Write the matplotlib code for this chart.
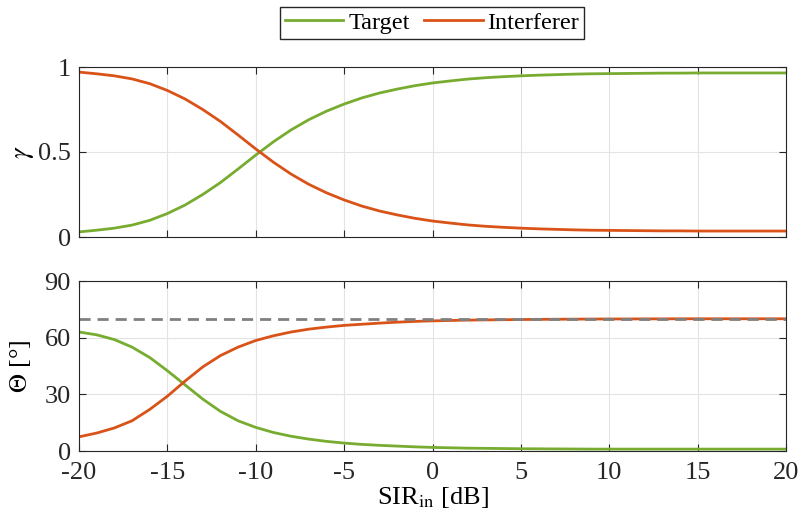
import numpy as np
import matplotlib
matplotlib.use("Agg")
import matplotlib.pyplot as plt

plt.rcParams["font.family"] = ["Liberation Serif", "DejaVu Serif"]
plt.rcParams["mathtext.fontset"] = "stix"

sir_db = np.arange(-20, 21)

gamma_target = [0.030, 0.040, 0.052, 0.070, 0.098, 0.138, 0.188, 0.250, 0.320, 0.400,
                0.482, 0.560, 0.630, 0.690, 0.740, 0.782, 0.818, 0.847, 0.870, 0.890,
                0.906, 0.918, 0.929, 0.937, 0.943, 0.948, 0.952, 0.955, 0.958, 0.960,
                0.961, 0.962, 0.963, 0.964, 0.964, 0.965, 0.965, 0.965, 0.965, 0.965, 0.965]
gamma_interf = [0.970, 0.960, 0.948, 0.930, 0.902, 0.862, 0.812, 0.750, 0.680, 0.600,
                0.518, 0.440, 0.370, 0.310, 0.260, 0.218, 0.182, 0.153, 0.130, 0.110,
                0.094, 0.082, 0.071, 0.063, 0.057, 0.052, 0.048, 0.045, 0.042, 0.040,
                0.039, 0.038, 0.037, 0.036, 0.036, 0.035, 0.035, 0.035, 0.035, 0.035, 0.035]

theta_target = [63.0, 61.5, 59.0, 55.0, 49.5, 42.5, 35.0, 27.5, 21.0, 16.0,
                12.5, 9.8, 7.8, 6.3, 5.1, 4.2, 3.5, 3.0, 2.6, 2.2,
                1.9, 1.7, 1.5, 1.4, 1.3, 1.2, 1.15, 1.1, 1.05, 1.0,
                1.0, 1.0, 1.0, 1.0, 1.0, 1.0, 1.0, 1.0, 1.0, 1.0, 1.0]
theta_interf = [7.5, 9.5, 12.2, 16.0, 22.0, 29.0, 37.0, 44.5, 50.5, 55.0,
                58.5, 61.0, 63.0, 64.5, 65.6, 66.5, 67.1, 67.7, 68.2, 68.6,
                68.9, 69.1, 69.3, 69.4, 69.5, 69.6, 69.7, 69.75, 69.8, 69.85,
                69.9, 69.9, 69.95, 69.95, 70.0, 70.0, 70.0, 70.0, 70.0, 70.0, 70.0]

theta_ref = 70.0

green = "#77AC30"
orange = "#D95319"
axis_col = "#262626"

fig = plt.figure(figsize=(8, 5.27), dpi=100)
ax1 = fig.add_axes([79 / 800, 1 - 237 / 527, 707 / 800, 170 / 527])
ax2 = fig.add_axes([79 / 800, 1 - 451 / 527, 707 / 800, 170 / 527])

for ax in (ax1, ax2):
    ax.set_xlim(-20, 20)
    ax.set_xticks(np.arange(-20, 21, 5))
    ax.grid(True, color="#e3e3e3", linewidth=0.8)
    ax.set_axisbelow(True)
    ax.tick_params(direction="in", top=True, right=True, labelsize=19,
                   colors=axis_col, length=5, width=0.8, pad=6)
    ax.tick_params(axis="x", pad=8)
    for s in ax.spines.values():
        s.set_color(axis_col)
        s.set_linewidth(0.8)

l1, = ax1.plot(sir_db, gamma_target, color=green, lw=2, label="Target")
l2, = ax1.plot(sir_db, gamma_interf, color=orange, lw=2, label="Interferer")
ax1.set_ylim(0, 1)
ax1.set_yticks([0, 0.5, 1])
ax1.set_yticklabels(["0", "0.5", "1"])
ax1.tick_params(labelbottom=False)
ax1.set_ylabel(r"$\gamma$", fontsize=19, labelpad=1)

ax2.plot(sir_db, theta_target, color=green, lw=2)
ax2.plot(sir_db, theta_interf, color=orange, lw=2)
ax2.axhline(theta_ref, color="#808080", lw=2, ls=(0, (4, 2.5)))
ax2.set_ylim(0, 90)
ax2.set_yticks([0, 30, 60, 90])
ax2.set_xticklabels([str(v) for v in range(-20, 21, 5)])
ax2.set_ylabel(r"$\Theta$ [°]", fontsize=19, labelpad=8)
ax2.set_xlabel(r"SIR$_{\rm in}$ [dB]", fontsize=19, labelpad=1)

fig.legend(handles=[l1, l2], loc="upper center", bbox_to_anchor=(432 / 800, 1 - 7 / 527),
           ncol=2, fontsize=17.5, frameon=True, fancybox=False, edgecolor=axis_col,
           handlelength=2.4, columnspacing=0.6, handletextpad=0.2, borderpad=0.2,
           borderaxespad=0, framealpha=1)

fig.savefig("out.png", dpi=100)
